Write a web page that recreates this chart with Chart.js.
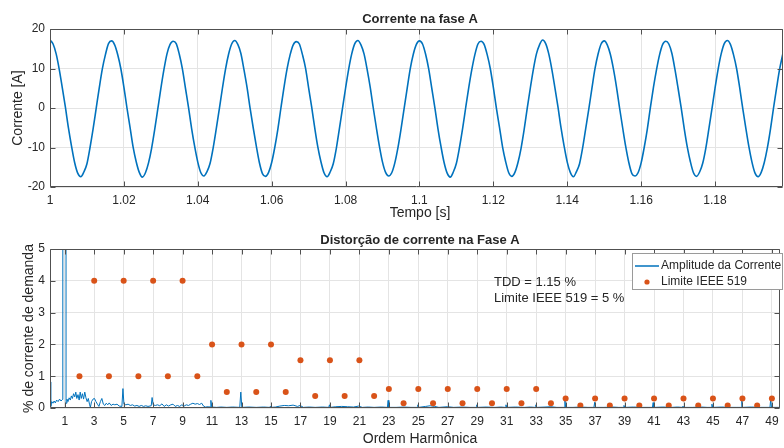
<!DOCTYPE html>
<html>
<head>
<meta charset="utf-8">
<script src="https://cdn.jsdelivr.net/npm/chart.js@4.4.1/dist/chart.umd.min.js"></script>
<style>
  html, body { margin: 0; padding: 0; background: #fff; }
  #wrap { position: relative; width: 784px; height: 448px; overflow: hidden; }
  canvas { position: absolute; left: 0; }
  #cTop { top: 0; }
  #cBot { top: 226px; }
</style>
</head>
<body>
<div id="wrap">
  <canvas id="cTop" width="784" height="226"></canvas>
  <canvas id="cBot" width="784" height="222"></canvas>
</div>
<script>
// ---- Phase A current, sampled at 1200 Hz starting at t = 1 s ----
const sampleStart = 1.0;     // s
const sampleRate = 1200;     // samples per second
const phaseCurrent = [
  17.2, 16.2, 13.7, 9.8, 5.1, 0.2, -5.1, -9.7, -13.8, -16.5, -17.4, -16.2, -14.1, -10.0, -5.3, -0.1, 5.1, 9.9, 13.5, 16.3,
  17.0, 16.0, 13.5, 10.0, 5.3, 0.0, -4.9, -9.9, -13.6, -16.3, -17.5, -16.4, -13.9, -10.2, -5.5, -0.3, 4.9, 9.7, 13.7, 16.1,
  16.9, 16.3, 13.6, 9.9, 5.0, 0.1, -5.2, -9.8, -13.7, -16.4, -17.2, -16.1, -14.0, -10.1, -5.3, -0.2, 5.0, 9.8, 13.6, 16.2,
  17.1, 16.1, 13.8, 9.7, 5.2, -0.1, -5.0, -9.6, -13.8, -16.6, -17.3, -16.3, -13.8, -10.0, -5.4, 0.0, 5.2, 9.9, 13.5, 16.0,
  16.8, 16.2, 13.5, 10.1, 5.1, 0.2, -5.1, -9.9, -13.6, -16.4, -17.4, -16.2, -14.1, -10.2, -5.2, -0.1, 5.0, 9.8, 13.7, 16.3,
  17.1, 16.0, 13.7, 9.8, 5.3, 0.0, -5.0, -9.7, -13.7, -16.3, -17.2, -16.4, -13.9, -10.1, -5.4, -0.2, 4.9, 9.9, 13.6, 16.1,
  17.0, 16.2, 13.6, 9.9, 5.0, 0.1, -5.2, -9.8, -13.8, -16.5, -17.5, -16.2, -14.0, -10.0, -5.3, 0.0, 5.1, 9.7, 13.5, 16.2,
  16.9, 16.1, 13.5, 10.0, 5.2, -0.1, -4.9, -9.9, -13.6, -16.4, -17.3, -16.3, -13.8, -10.2, -5.5, -0.1, 5.0, 9.8, 13.7, 16.0,
  17.2, 16.3, 13.7, 9.8, 5.1, 0.2, -5.1, -9.7, -13.7, -16.3, -17.4, -16.1, -14.1, -10.1, -5.2, -0.3, 4.9, 9.9, 13.6, 16.2,
  17.0, 16.0, 13.6, 9.9, 5.3, 0.0, -5.0, -9.8, -13.8, -16.6, -17.2, -16.4, -13.9, -10.0, -5.4, 0.1, 5.2, 9.7, 13.5, 16.1,
  16.9, 16.2, 13.8, 9.7, 5.0, 0.1, -5.2, -9.9, -13.6, -16.4, -17.3, -16.2, -14.0, -10.2, -5.3, -0.2, 5.0, 9.8, 13.7, 16.3,
  17.1, 16.1, 13.5, 10.0, 5.2, -0.1, -5.1, -9.8, -13.7, -16.5, -17.4, -16.3, -13.8, -10.1, -5.4, 0.0, 5.1, 9.9, 13.6
];
const timeTicks = [1, 1.02, 1.04, 1.06, 1.08, 1.1, 1.12, 1.14, 1.16, 1.18];
const currentTicks = [-20, -10, 0, 10, 20];

// ---- Harmonic spectrum of the current (% of demand current) ----
const harmonicOrder = [
  0, 0.05, 0.12, 0.2, 0.28, 0.36, 0.45, 0.55, 0.65, 0.75, 0.85, 0.87, 1.07, 1.09,
  1.15, 1.22, 1.3, 1.38, 1.45, 1.52, 1.6, 1.68, 1.75, 1.82, 1.9, 1.98,
  2.05, 2.12, 2.2, 2.28, 2.36, 2.44, 2.52, 2.6, 2.68, 2.74, 2.82, 2.92,
  3.02, 3.12, 3.22, 3.32, 3.42, 3.52, 3.62, 3.72, 3.82, 3.92,
  4.02, 4.15, 4.28, 4.4, 4.55, 4.7, 4.88, 4.95, 5.02, 5.15, 5.3, 5.45, 5.6, 5.75, 5.9,
  6.05, 6.2, 6.35, 6.5, 6.65, 6.87, 6.93, 7.0, 7.15, 7.3, 7.45, 7.6, 7.75, 7.9,
  8.05, 8.2, 8.35, 8.5, 8.65, 8.8, 8.95, 9.1, 9.25, 9.4, 9.55, 9.7, 9.85,
  10.0, 10.15, 10.3, 10.42, 10.55, 10.75, 10.87, 10.92, 10.98, 11.3,
  11.6, 12.0, 12.4, 12.88, 12.95, 13.02, 13.5, 14.0, 14.5,
  14.9, 14.95, 15.0, 15.3, 15.6, 15.9, 16.2, 16.5, 16.8, 16.98, 17.2, 17.6, 18.0, 18.5,
  18.92, 18.97, 19.02, 19.4, 19.8, 20.2, 20.6, 20.95, 21.2, 21.6, 22.0, 22.5,
  22.9, 22.95, 23.0, 23.5, 24.0, 24.5, 24.92, 24.97, 25.02, 25.5, 25.8, 26.1, 26.4,
  26.97, 27.4, 28.0, 28.5, 28.92, 28.97, 29.02, 29.6, 30.2, 30.6, 30.9, 30.95, 31.0,
  31.6, 32.2, 32.6, 32.93, 32.98, 33.03, 33.6, 34.0, 34.4, 34.9, 34.95, 35.0,
  35.5, 36.0, 36.5, 36.92, 36.97, 37.02, 37.6, 38.2, 38.6, 38.91, 38.96, 39.01,
  39.6, 40.2, 40.6, 40.89, 40.94, 40.99, 41.6, 42.2, 42.6, 42.91, 42.96, 43.01,
  43.6, 44.2, 44.6, 44.88, 44.93, 44.98, 45.6, 46.2, 46.6, 46.91, 46.96, 47.01, 47.6, 48.2, 48.6, 48.87, 48.92, 48.97, 49.55
];
const currentPct = [
  0.82, 0.05, 0.2, 0.15, 0.22, 0.16, 0.25, 0.2, 0.28, 0.22, 0.27, 100, 100, 0.15,
  0.28, 0.2, 0.32, 0.25, 0.38, 0.3, 0.45, 0.35, 0.5, 0.3, 0.42, 0.25,
  0.5, 0.3, 0.45, 0.28, 0.5, 0.32, 0.2, 0.3, 0.12, 0.02, 0.2, 0.28,
  0.3, 0.2, 0.12, 0.05, 0.2, 0.3, 0.12, 0.08, 0.15, 0.1,
  0.16, 0.08, 0.12, 0.1, 0.12, 0.06, 0.05, 0.61, 0.12, 0.1, 0.12, 0.08, 0.1, 0.06, 0.08,
  0.05, 0.08, 0.05, 0.07, 0.05, 0.07, 0.33, 0.1, 0.08, 0.1, 0.07, 0.13, 0.05, 0.1,
  0.06, 0.1, 0.12, 0.05, 0.08, 0.05, 0.1, 0.06, 0.1, 0.08, 0.12, 0.15, 0.12,
  0.14, 0.11, 0.15, 0.06, 0.03, 0.04, 0.03, 0.24, 0.03, 0.02,
  0.03, 0.02, 0.03, 0.02, 0.5, 0.02, 0.03, 0.02, 0.03,
  0.02, 0.05, 0.02, 0.03, 0.06, 0.08, 0.07, 0.09, 0.05, 0.08, 0.02, 0.03, 0.02, 0.03,
  0.02, 0.1, 0.02, 0.04, 0.05, 0.04, 0.03, 0.06, 0.02, 0.03, 0.02, 0.03,
  0.02, 0.24, 0.02, 0.02, 0.03, 0.02, 0.02, 0.1, 0.02, 0.05, 0.07, 0.05, 0.02,
  0.04, 0.02, 0.03, 0.02, 0.02, 0.1, 0.02, 0.03, 0.02, 0.03, 0.02, 0.1, 0.02,
  0.03, 0.02, 0.03, 0.02, 0.1, 0.02, 0.03, 0.04, 0.02, 0.02, 0.28, 0.02,
  0.02, 0.03, 0.02, 0.02, 0.18, 0.02, 0.02, 0.03, 0.02, 0.02, 0.08, 0.02,
  0.03, 0.02, 0.02, 0.02, 0.17, 0.02, 0.03, 0.02, 0.03, 0.02, 0.06, 0.02,
  0.02, 0.03, 0.02, 0.02, 0.12, 0.02, 0.03, 0.02, 0.02, 0.02, 0.25, 0.02, 0.03, 0.02, 0.02, 0.02, 0.28, 0.02, 0.02
];

// ---- IEEE 519 individual harmonic limits ----
const limitOrder = [
  2, 3, 4, 5, 6, 7, 8, 9, 10, 11, 12, 13, 14, 15, 16, 17, 18, 19, 20, 21, 22, 23, 24, 25,
  26, 27, 28, 29, 30, 31, 32, 33, 34, 35, 36, 37, 38, 39, 40, 41, 42, 43, 44, 45, 46, 47, 48, 49
];
const limitPct = [
  1, 4, 1, 4, 1, 4, 1, 4, 1,
  2, 0.5, 2, 0.5, 2, 0.5,
  1.5, 0.375, 1.5, 0.375, 1.5, 0.375,
  0.6, 0.15, 0.6, 0.15, 0.6, 0.15, 0.6, 0.15, 0.6, 0.15, 0.6, 0.15,
  0.3, 0.075, 0.3, 0.075, 0.3, 0.075, 0.3, 0.075, 0.3, 0.075, 0.3, 0.075, 0.3, 0.075, 0.3
];
const orderTicks = [1, 3, 5, 7, 9, 11, 13, 15, 17, 19, 21, 23, 25, 27, 29, 31, 33, 35, 37, 39, 41, 43, 45, 47, 49];
const pctTicks = [0, 1, 2, 3, 4, 5];
const tddText = ['TDD = 1.15 %', 'Limite IEEE 519 = 5 %'];

// ---- styling ----
const FONT = '"Liberation Sans", Arial, Helvetica, sans-serif';
const INK = '#262626';
const GRID = '#e4e4e4';
const FRAME = '#505050';
const BLUE = '#0072BD';
const ORANGE = '#D95319';

function makeScale(tickValues, min, max, isX, axisHeight, fmt) {
  return {
    type: 'linear',
    min: min,
    max: max,
    grid: { color: GRID, lineWidth: 1, drawTicks: false },
    border: { display: false },
    ticks: {
      color: INK,
      font: { family: FONT, size: 12 },
      padding: isX ? 6 : 5,
      autoSkip: false,
      maxRotation: 0,
      minRotation: 0,
      includeBounds: false,
      callback: fmt || (v => String(v))
    },
    afterBuildTicks: s => { s.ticks = tickValues.map(v => ({ value: v })); },
    afterFit: s => {
      if (isX) { s.height = axisHeight; s.paddingLeft = 0; s.paddingRight = 0; }
      else { s.width = 50; s.paddingTop = 0; s.paddingBottom = 0; }
    }
  };
}

// Box, inward tick marks and the text around each axes
const framePlugin = {
  id: 'axesFrame',
  afterDraw(chart, args, o) {
    const { ctx, chartArea: a } = chart;
    const sx = chart.scales.x, sy = chart.scales.y;
    ctx.save();
    ctx.strokeStyle = FRAME;
    ctx.lineWidth = 1;
    const L = a.left + 0.5, R = a.right - 0.5, T = a.top + 0.5, B = a.bottom - 0.5;
    ctx.beginPath();
    ctx.rect(L, T, R - L, B - T);
    const tl = 5;
    sx.ticks.forEach(t => {
      const x = Math.round(sx.getPixelForValue(t.value)) + 0.5;
      ctx.moveTo(x, B); ctx.lineTo(x, B - tl);
      ctx.moveTo(x, T); ctx.lineTo(x, T + tl);
    });
    sy.ticks.forEach(t => {
      const y = Math.round(sy.getPixelForValue(t.value)) + 0.5;
      ctx.moveTo(L, y); ctx.lineTo(L + tl, y);
      ctx.moveTo(R, y); ctx.lineTo(R - tl, y);
    });
    ctx.stroke();

    ctx.fillStyle = INK;
    ctx.textAlign = 'center';
    ctx.textBaseline = 'alphabetic';
    ctx.font = `bold 13px ${FONT}`;
    ctx.fillText(o.title, o.cx, o.titleY);
    ctx.font = `14px ${FONT}`;
    ctx.fillText(o.xTitle, o.cx, o.xTitleY);
    ctx.translate(o.yTitleX, (a.top + a.bottom) / 2);
    ctx.rotate(-Math.PI / 2);
    ctx.fillText(o.yTitle, 0, 0);
    ctx.restore();
  }
};

// Legend box and TDD note of the spectrum axes
const spectrumNotes = {
  id: 'spectrumNotes',
  afterDraw(chart, args, o) {
    if (!o.enabled) return;
    const { ctx } = chart;
    const ds = chart.data.datasets;
    ctx.save();
    // TDD annotation
    ctx.fillStyle = INK;
    ctx.font = `13px ${FONT}`;
    ctx.textAlign = 'left';
    ctx.textBaseline = 'middle';
    tddText.forEach((s, i) => ctx.fillText(s, o.noteX, o.noteY + i * 15.5));

    // legend
    const bx = o.legX, by = o.legY, bw = o.legW, bh = o.legH;
    ctx.fillStyle = '#fff';
    ctx.fillRect(bx, by, bw, bh);
    ctx.strokeStyle = '#9a9a9a';
    ctx.lineWidth = 1;
    ctx.strokeRect(bx + 0.5, by + 0.5, bw - 1, bh - 1);
    ctx.font = `12px ${FONT}`;
    ctx.fillStyle = INK;
    const r1 = by + 13, r2 = by + 29;
    ctx.strokeStyle = ds[0].borderColor;
    ctx.lineWidth = 1.5;
    ctx.beginPath(); ctx.moveTo(bx + 3, r1); ctx.lineTo(bx + 27, r1); ctx.stroke();
    ctx.fillText(ds[0].label, bx + 29, r1);
    ctx.fillStyle = ds[1].backgroundColor;
    ctx.beginPath(); ctx.arc(bx + 15, r2, 2.6, 0, Math.PI * 2); ctx.fill();
    ctx.fillStyle = INK;
    ctx.fillText(ds[1].label, bx + 29, r2);
    ctx.restore();
  }
};

Chart.register(framePlugin, spectrumNotes);

// ---- top: time waveform ----
const wavePoints = phaseCurrent.map((v, i) => ({ x: sampleStart + i / sampleRate, y: v }));

new Chart(document.getElementById('cTop'), {
  type: 'scatter',
  data: {
    datasets: [{
      label: 'Corrente',
      data: wavePoints,
      showLine: true,
      borderColor: BLUE,
      borderWidth: 1.6,
      pointRadius: 0,
      cubicInterpolationMode: 'monotone'
    }]
  },
  options: {
    responsive: false,
    animation: false,
    events: [],
    layout: { padding: { top: 29, right: 1, bottom: 1, left: 0 } },
    scales: {
      x: makeScale(timeTicks, 1, 1.1984, true, 38, v => String(+v.toFixed(2))),
      y: makeScale(currentTicks, -20, 20, false)
    },
    plugins: {
      legend: { display: false },
      tooltip: { enabled: false },
      axesFrame: { title: 'Corrente na fase A', xTitle: 'Tempo [s]', yTitle: 'Corrente [A]',
                   cx: 420, titleY: 23, xTitleY: 217, yTitleX: 22 },
      spectrumNotes: { enabled: false }
    }
  }
});

// ---- bottom: harmonic spectrum ----
const spectrumPoints = harmonicOrder.map((h, i) => ({ x: h, y: currentPct[i] }));
const limitPoints = limitOrder.map((h, i) => ({ x: h, y: limitPct[i] }));

new Chart(document.getElementById('cBot'), {
  type: 'scatter',
  data: {
    datasets: [{
      label: 'Amplitude da Corrente',
      data: spectrumPoints,
      showLine: true,
      borderColor: BLUE,
      borderWidth: 1,
      pointRadius: 0,
      tension: 0,
      order: 2
    }, {
      label: 'Limite IEEE 519',
      data: limitPoints,
      showLine: false,
      backgroundColor: ORANGE,
      borderColor: ORANGE,
      borderWidth: 0,
      pointRadius: 3,
      order: 1
    }]
  },
  options: {
    responsive: false,
    animation: false,
    events: [],
    layout: { padding: { top: 23, right: 1, bottom: 1, left: 0 } },
    scales: {
      x: makeScale(orderTicks, 0, 49.55, true, 39),
      y: makeScale(pctTicks, 0, 5, false)
    },
    plugins: {
      legend: { display: false },
      tooltip: { enabled: false },
      axesFrame: { title: 'Distorção de corrente na Fase A', xTitle: 'Ordem Harmônica',
                   yTitle: '% de corrente de demanda', cx: 420, titleY: 18, xTitleY: 217, yTitleX: 33 },
      spectrumNotes: { enabled: true, noteX: 494, noteY: 56.5,
                       legX: 632, legY: 27, legW: 151, legH: 37 }
    }
  }
});
</script>
</body>
</html>
